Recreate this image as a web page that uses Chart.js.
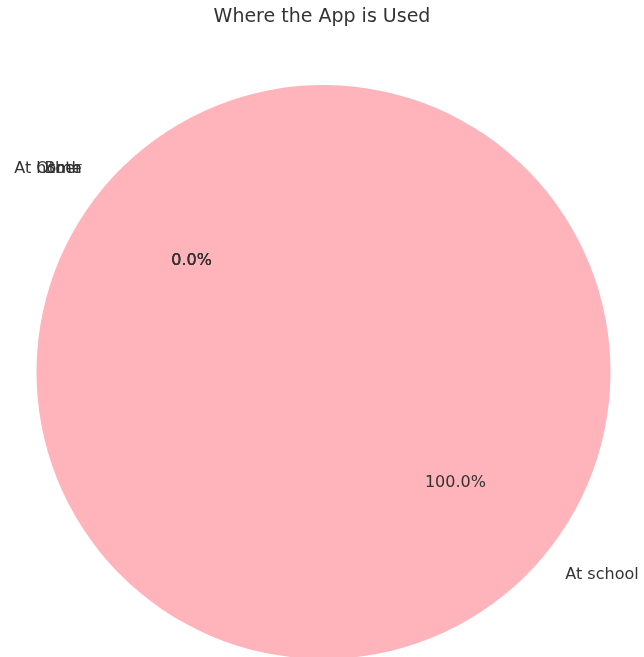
<!DOCTYPE html>
<html>
<head>
<meta charset="utf-8">
<script src="https://cdn.jsdelivr.net/npm/chart.js@4/dist/chart.umd.min.js"></script>
<style>
  html, body { margin: 0; padding: 0; background: #fff; overflow: hidden; }
  #wrap { width: 644px; height: 680px; }
</style>
</head>
<body>
<div id="wrap"><canvas id="pieChart" width="644" height="680"></canvas></div>
<script>
const labels = ["At school", "At home", "Both", "Other"];
const counts = [100, 0, 0, 0];
const colors = ["#ffb3ba", "#ffdfba", "#baffc9", "#bae1ff"];
const chartTitle = "Where the App is Used";

const textColor = "#333333";
const fontFamily = "'DejaVu Sans', sans-serif";

// outer labels at 1.1 r and percentages at 0.6 r, like matplotlib's autopct
const pieText = {
  id: "pieText",
  afterDatasetsDraw(chart) {
    const ctx = chart.ctx;
    const meta = chart.getDatasetMeta(0);
    const total = counts.reduce((a, b) => a + b, 0);
    ctx.save();
    ctx.fillStyle = textColor;
    ctx.textBaseline = "middle";

    ctx.font = "19px " + fontFamily;
    ctx.textAlign = "center";
    ctx.fillText(chartTitle, chart.width / 2, 17);

    meta.data.forEach((arc, i) => {
      const p = arc.getProps(["x", "y", "startAngle", "endAngle", "outerRadius"], true);
      const mid = (p.startAngle + p.endAngle) / 2;
      const c = Math.cos(mid), s = Math.sin(mid);
      ctx.font = "16px " + fontFamily;
      ctx.textAlign = c >= 0 ? "left" : "right";
      ctx.fillText(labels[i], p.x + 1.1 * p.outerRadius * c, p.y + 1.1 * p.outerRadius * s);
      ctx.textAlign = "center";
      const pct = (100 * counts[i] / total).toFixed(1) + "%";
      ctx.fillText(pct, p.x + 0.6 * p.outerRadius * c, p.y + 0.6 * p.outerRadius * s);
    });
    ctx.restore();
  }
};

new Chart(document.getElementById("pieChart"), {
  type: "pie",
  data: {
    labels: labels,
    datasets: [{
      data: counts,
      backgroundColor: colors,
      borderWidth: 0
    }]
  },
  options: {
    responsive: false,
    animation: false,
    rotation: 310,
    layout: { padding: { top: 85, bottom: 21, left: 36, right: 33 } },
    plugins: {
      legend: { display: false },
      title: { display: false },
      tooltip: { enabled: false }
    }
  },
  plugins: [pieText]
});
</script>
</body>
</html>
